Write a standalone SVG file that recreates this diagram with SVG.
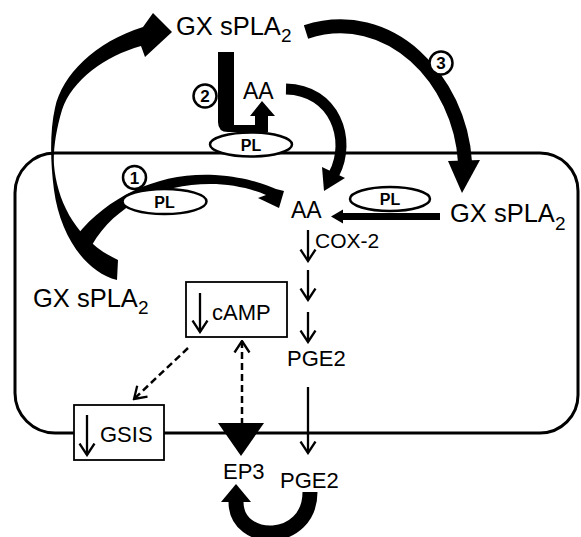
<svg xmlns="http://www.w3.org/2000/svg" width="581" height="537" viewBox="0 0 581 537">
<style>
text{font-family:"Liberation Sans",Arial,sans-serif;fill:#000}
.lbl{font-size:22px}
.gx{font-size:25.5px}
.sub{font-size:19px}
.pl{font-size:16px;font-weight:bold}
.num{font-size:17px;font-weight:bold}
.ell{fill:#fff;stroke:#000;stroke-width:2.5}
.box{fill:#fff;stroke:#000;stroke-width:1.8}
.cell{fill:none;stroke:#000;stroke-width:3}
.thin{fill:none;stroke:#000;stroke-width:2.3}
.dash{fill:none;stroke:#000;stroke-width:2.5;stroke-dasharray:7,4}
.fat{fill:none;stroke:#000;stroke-linecap:butt}
.solid{fill:#000;stroke:none}
</style>
<defs>
<marker id="chev" markerUnits="userSpaceOnUse" viewBox="0 0 14 18" markerWidth="14" markerHeight="18" refX="12.5" refY="9" orient="auto-start-reverse">
<path d="M1,1.5 L12.5,9 L1,16.5" fill="none" stroke="#000" stroke-width="2.3"/>
</marker>
</defs>

<g id="cell">
<path class="cell" d="M55,153 H540 A38,38 0 0 1 578,191 V395 A38,38 0 0 1 540,433 H55 A40,40 0 0 1 15,393 V193 A40,40 0 0 1 55,153 Z"/>
</g>

<g id="connectors">
<path class="solid" d="M118,260 L117,280 C85,272 60,235 54,190 C50,160 50,130 55,108 C62,75 95,42 143,27 L153,13 L172,32 L145,57 L141,46 C105,56 72,80 62,110 C56,130 53,150 54,165 C57,200 75,240 118,260 Z"/>
<path class="solid" d="M77,235 C110,195 160,172 215,175 C245,177 265,184 276,189 L284,191 L279,208 L258,198 L266,195 C250,188 230,184 210,184 C160,184 115,205 92,245 Z"/>
<path class="solid" d="M218,52 L234,52 L234,125 L255,125 L255,116 L250,116 L262,101 L275,116 L268,116 L268,132 L228,132 Q218,132 218,122 Z"/>
<path class="fat" stroke-width="11" d="M286,89 C335,90 352,140 334,174"/>
<polygon class="solid" points="322,167 345,178 324,191"/>
<path class="fat" stroke-width="14" d="M306,32 C390,5 460,80 465,162"/>
<polygon class="solid" points="448,161 480,160 462,193"/>
<path class="fat" stroke-width="7" d="M440,216.5 H342"/>
<polygon class="solid" points="343,209.5 343,223.5 331,216.5"/>
<path class="thin" marker-end="url(#chev)" d="M308,230 V261"/>
<path class="thin" marker-end="url(#chev)" d="M308,270 V300"/>
<path class="thin" marker-end="url(#chev)" d="M308,312 V342"/>
<path class="thin" marker-end="url(#chev)" d="M308,387 V453"/>
<path class="dash" marker-end="url(#chev)" d="M188,348 L134,399"/>
<path class="dash" marker-end="url(#chev)" d="M242,425 V341"/>
<path class="fat" stroke-width="15" d="M310,492 C310,545 236,545 236,502"/>
<polygon class="solid" points="221,502 236,484 251,502"/>
</g>

<g id="pl_top">
<ellipse class="ell" cx="251" cy="144.5" rx="41" ry="12"/>
<text class="pl" x="251" y="150.5" text-anchor="middle">PL</text>
</g>
<g id="pl_left">
<ellipse class="ell" cx="164.5" cy="201.5" rx="42" ry="12.5"/>
<text class="pl" x="164.5" y="207.5" text-anchor="middle">PL</text>
</g>
<g id="pl_right">
<ellipse class="ell" cx="390" cy="199" rx="40" ry="12"/>
<text class="pl" x="390" y="205" text-anchor="middle">PL</text>
</g>

<g id="num1">
<circle class="ell" cx="134.5" cy="177.5" r="11.5" stroke-width="2"/>
<text class="num" x="134.5" y="183.5" text-anchor="middle">1</text>
</g>
<g id="num2">
<circle class="ell" cx="205" cy="96" r="11.5" stroke-width="2"/>
<text class="num" x="205" y="102" text-anchor="middle">2</text>
</g>
<g id="num3">
<circle class="ell" cx="441" cy="63" r="11.5" stroke-width="2"/>
<text class="num" x="441" y="69" text-anchor="middle">3</text>
</g>

<g id="gx_top">
<text class="gx" x="176" y="35">GX sPLA<tspan class="sub" dy="7">2</tspan></text>
</g>
<g id="gx_right">
<text class="gx" x="450" y="222">GX sPLA<tspan class="sub" dy="8">2</tspan></text>
</g>
<g id="gx_left">
<text class="gx" x="33" y="307">GX sPLA<tspan class="sub" dy="7">2</tspan></text>
</g>

<g id="aa_top">
<text class="lbl" x="243" y="99" style="font-size:23px">AA</text>
</g>
<g id="aa_mid">
<text class="lbl" x="291" y="218" style="font-size:23px">AA</text>
</g>
<g id="cox2">
<text class="lbl" x="315" y="248" style="font-size:21px">COX-2</text>
</g>
<g id="pge2_in">
<text class="lbl" x="287" y="366">PGE2</text>
</g>
<g id="pge2_out">
<text class="lbl" x="280" y="488">PGE2</text>
</g>

<g id="camp">
<rect class="box" x="186" y="282" width="101" height="55"/>
<path class="thin" marker-end="url(#chev)" d="M200,293 V332"/>
<text class="lbl" x="212" y="320">cAMP</text>
</g>
<g id="gsis">
<rect class="box" x="74" y="405" width="90" height="55"/>
<path class="thin" marker-end="url(#chev)" d="M87,415 V455"/>
<text class="lbl" x="100" y="442">GSIS</text>
</g>
<g id="ep3">
<polygon class="solid" points="218,423 264,423 241,456"/>
<text class="lbl" x="223" y="479">EP3</text>
</g>
</svg>
